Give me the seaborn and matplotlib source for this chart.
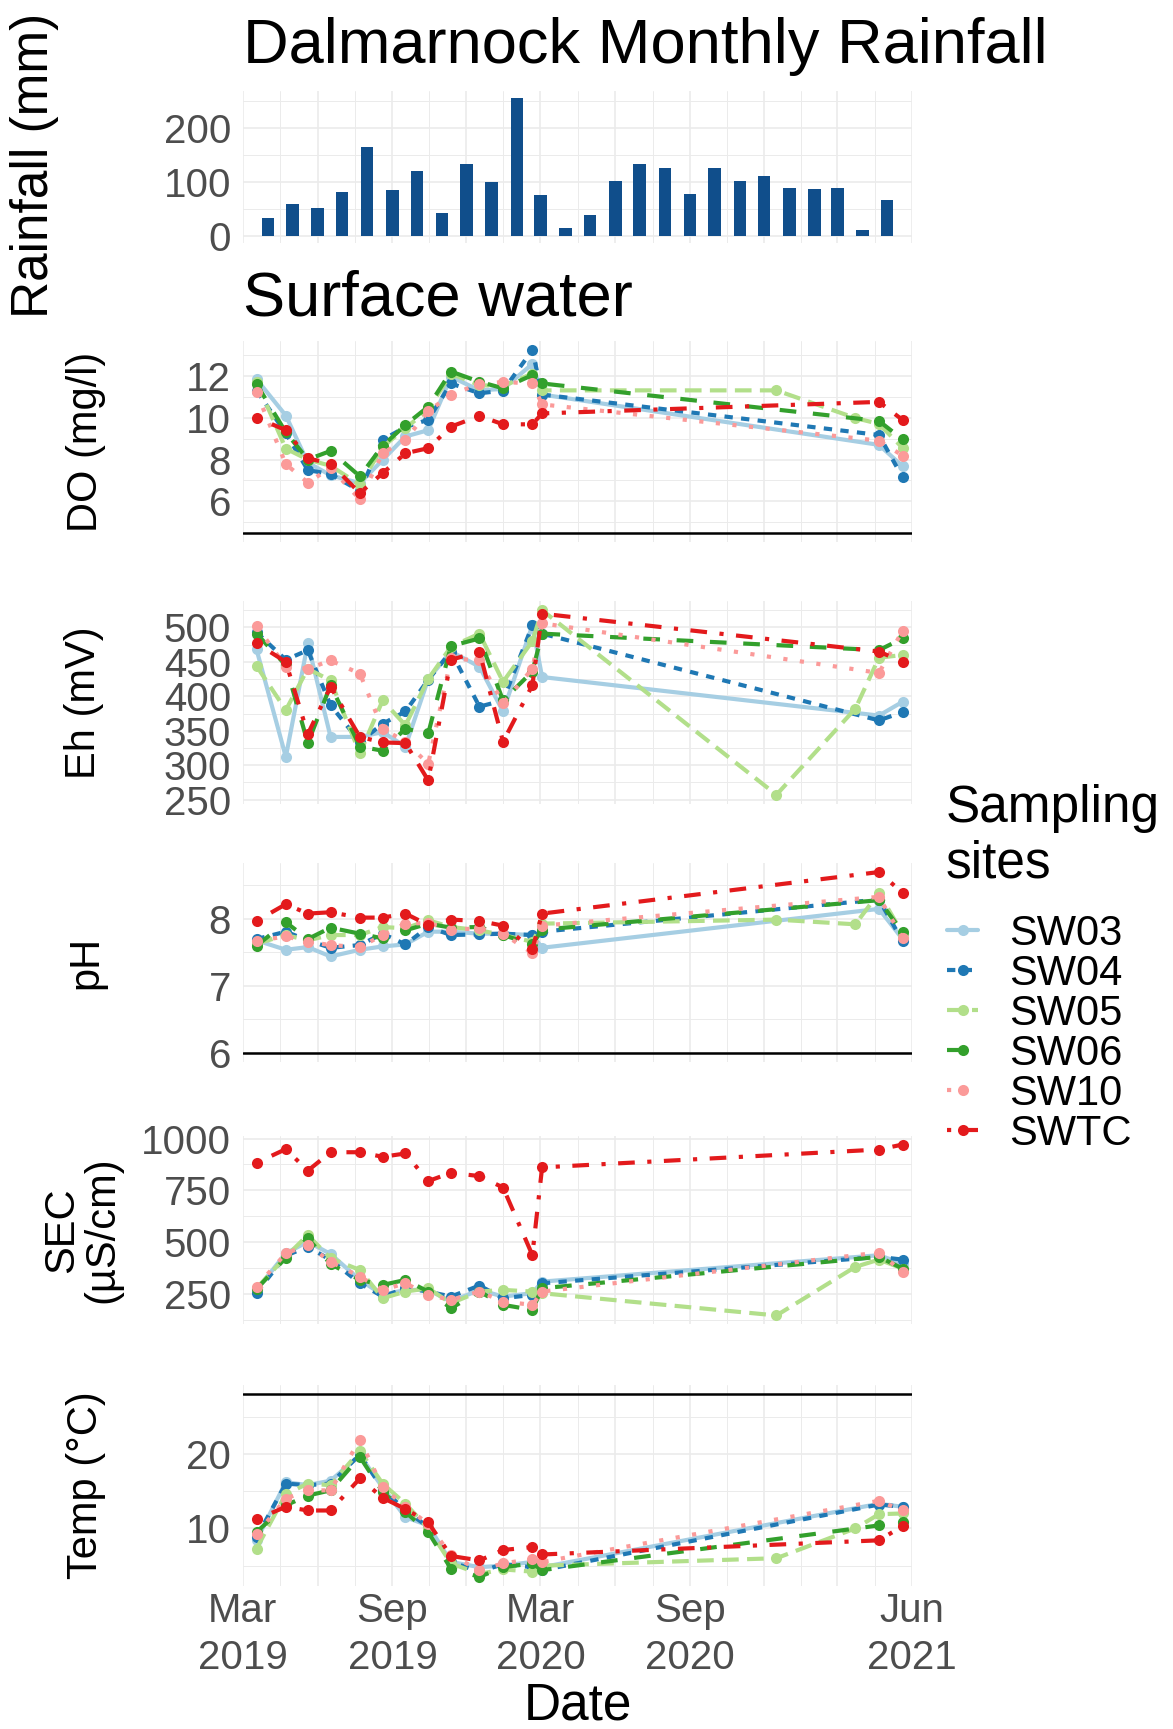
import numpy as np
import pandas as pd
import matplotlib
matplotlib.use("Agg")
import matplotlib.pyplot as plt
import matplotlib.dates as mdates
from matplotlib.lines import Line2D
from matplotlib.ticker import MultipleLocator, AutoMinorLocator, FixedLocator, FuncFormatter
import seaborn as sns

# ---------------- data ----------------
SITES = ["SW03", "SW04", "SW05", "SW06", "SW10", "SWTC"]
SITE_COLORS = ["#A6CEE3", "#1F78B4", "#B2DF8A", "#33A02C", "#FB9A99", "#E31A1C"]
SITE_DASHES_GG = ["", (2, 2), (4, 2), (4, 4), (1, 3), (1, 3, 4, 3)]

SAMPLE_DATES = ["2019-03-18", "2019-04-23", "2019-05-20", "2019-06-17", "2019-07-23",
                "2019-08-20", "2019-09-17", "2019-10-15", "2019-11-12", "2019-12-17",
                "2020-01-15", "2020-02-20", "2020-03-03", "2020-12-16", "2021-03-23",
                "2021-04-21", "2021-05-20"]

RAIN_MONTHS = pd.date_range("2019-04-01", "2021-05-01", freq="MS")
RAIN_MM = [34, 60, 52, 82, 164, 85, 120, 42, 133, 99, 255, 76, 15,
           39, 102, 133, 126, 77, 126, 102, 111, 88, 86, 88, 12, 66]

N = None
DO_SW03 = [11.83, 10.1, 7.85, 7.25, 6.87, 7.98, 9.1, 9.4, 11.95, 11.3, 11.37, 12.56, 11.1, N, N, 8.7, 7.68]
DO_SW04 = [11.29, 9.25, 7.5, 7.3, 6.5, 8.94, 9.55, 9.9, 11.63, 11.16, 11.29, 13.22, 11.1, N, N, 9.17, 7.15]
DO_SW05 = [11.71, 8.52, 8.0, 7.7, 6.8, 8.6, 9.5, 10.37, 12.1, 11.55, 11.5, 12.1, 11.3, 11.3, 9.98, 9.7, 8.56]
DO_SW06 = [11.6, 9.3, 8.0, 8.41, 7.2, 8.65, 9.65, 10.52, 12.2, 11.71, 11.4, 12.03, 11.63, N, N, 9.84, 8.96]
DO_SW10 = [11.2, 7.78, 6.9, 7.6, 6.1, 8.3, 8.94, 10.3, 11.1, 11.6, 11.7, 11.63, 10.63, N, N, 8.9, 8.19]
DO_SWTC = [10.0, 9.4, 8.06, 7.8, 6.4, 7.35, 8.3, 8.54, 9.57, 10.08, 9.68, 9.68, 10.2, N, N, 10.75, 9.89]

EH_SW03 = [468, 312, 477, 341, 341, 348, 327, 425, 465, 443, 378, 503, 428, N, N, 372, 392]
EH_SW04 = [493, 453, 467, 387, 334, 360, 378, 424, 465, 385, 394, 503, 491, N, N, 365, 377]
EH_SW05 = [444, 380, 440, 423, 317, 394, 358, 425, 472, 491, 421, 480, 525, 257, 382, 456, 460]
EH_SW06 = [491, 445, 332, 416, 327, 321, 353, 346, 473, 484, 394, 436, 491, N, N, 467, 484]
EH_SW10 = [502, 443, 440, 452, 433, 353, 334, 302, 455, 452, 390, 440, 506, N, N, 434, 495]
EH_SWTC = [477, 450, 345, 414, 341, 333, 332, 278, 453, 465, 334, 416, 520, N, N, 465, 450]

PH_SW03 = [7.68, 7.54, 7.58, 7.44, 7.54, 7.59, 7.62, 7.81, 7.81, 7.78, 7.78, 7.76, 7.57, N, N, 8.15, 7.70]
PH_SW04 = [7.70, 7.81, 7.68, 7.57, 7.61, 7.78, 7.62, 7.88, 7.76, 7.77, 7.78, 7.76, 7.81, N, N, 8.29, 7.67]
PH_SW05 = [7.63, 7.76, 7.68, 7.76, 7.76, 7.88, 7.86, 7.98, 7.88, 7.83, 7.76, 7.66, 7.93, 7.99, 7.92, 8.39, 7.78]
PH_SW06 = [7.60, 7.95, 7.70, 7.87, 7.78, 7.71, 7.83, 7.93, 7.87, 7.88, 7.76, 7.62, 7.84, N, N, 8.28, 7.80]
PH_SW10 = [7.67, 7.74, 7.66, 7.61, 7.58, 7.76, 7.93, 7.94, 7.84, 7.86, 7.78, 7.49, 7.90, N, N, 8.33, 7.72]
PH_SWTC = [7.97, 8.22, 8.08, 8.10, 8.02, 8.02, 8.08, 7.91, 7.99, 7.97, 7.90, 7.55, 8.08, N, N, 8.70, 8.39]

SEC_SW03 = [271, 447, 503, 444, 319, 247, 271, 271, 215, 271, 239, 255, 311, N, N, 438, 398]
SEC_SW04 = [258, 436, 479, 415, 303, 239, 279, 263, 239, 292, 231, 247, 303, N, N, 430, 417]
SEC_SW05 = [279, 431, 535, 423, 367, 231, 263, 279, 207, 263, 271, 263, 255, 148, 382, 417, 374]
SEC_SW06 = [275, 426, 519, 396, 319, 295, 319, 263, 183, 263, 199, 175, 279, N, N, 430, 374]
SEC_SW10 = [287, 447, 487, 407, 335, 271, 303, 247, 223, 263, 215, 199, 263, N, N, 451, 358]
SEC_SWTC = [883, 949, 845, 934, 934, 912, 928, 795, 835, 819, 764, 439, 861, N, N, 947, 971]

TEMP_SW03 = [8.4, 16.2, 15.8, 16.4, 19.8, 15.5, 11.5, 10.4, 5.5, 4.8, 5.0, 5.5, 4.8, N, N, 13.3, 12.9]
TEMP_SW04 = [8.8, 16.0, 15.8, 16.0, 19.9, 15.3, 12.4, 10.2, 5.5, 4.2, 5.2, 4.8, 4.4, N, N, 13.2, 12.9]
TEMP_SW05 = [7.3, 14.6, 16.0, 15.8, 20.4, 16.0, 13.3, 10.0, 5.3, 3.9, 4.5, 4.2, 5.0, 6.0, 10.0, 11.9, 12.0]
TEMP_SW06 = [9.5, 13.1, 14.4, 15.1, 19.6, 14.9, 12.2, 9.5, 4.6, 3.5, 4.8, 5.3, 4.4, N, N, 10.4, 10.8]
TEMP_SW10 = [9.2, 14.0, 15.1, 15.1, 21.9, 15.5, 12.9, 10.6, 6.4, 4.4, 5.3, 5.9, 5.5, N, N, 13.7, 12.4]
TEMP_SWTC = [11.2, 12.9, 12.4, 12.4, 16.7, 14.1, 12.6, 10.8, 6.3, 5.7, 7.1, 7.5, 6.5, N, N, 8.4, 10.3]

PANEL_LABELS = ["DO (mg/l)", "Eh (mV)", "pH", "SEC\n(µS/cm)", "Temp (°C)"]
PANEL_THRESHOLDS = [4.5, None, 6.0, None, 28.0]
PANEL_STEPS = [2, 50, 1, 250, 10]

X_START, X_END = "2019-03-01", "2021-06-01"
LABELED_TICKS = ["2019-03-01", "2019-09-01", "2020-03-01", "2020-09-01", "2021-06-01"]

# ---------------- style ----------------
sns.set_style("white")
plt.rcParams["font.family"] = ["Liberation Sans", "DejaVu Sans"]
plt.rcParams["text.color"] = "black"

W, H = 1173, 1729
fig = plt.figure(figsize=(W / 100, H / 100), dpi=100)


def rect(left, top, right, bottom):
    return [left / W, 1 - bottom / H, (right - left) / W, (bottom - top) / H]


PX_L, PX_R = 242.7, 912.3
GRID_C = "#EBEBEB"
TICK_C = "#4D4D4D"
LW = 3.0
MS = 8.0
DSCALE = 1.0
dash_map = {s: (d if d == "" else tuple(v * DSCALE for v in d)) for s, d in zip(SITES, SITE_DASHES_GG)}
pal = dict(zip(SITES, SITE_COLORS))
xmin, xmax = pd.Timestamp(X_START), pd.Timestamp(X_END)
labeled = mdates.date2num(pd.to_datetime(LABELED_TICKS))
major_nums = mdates.date2num(pd.date_range(X_START, X_END, freq="3MS"))
minor_nums = (major_nums[:-1] + major_nums[1:]) / 2


def style_x(ax, show_labels):
    ax.set_xlim(mdates.date2num(xmin), mdates.date2num(xmax))
    ax.xaxis.set_major_locator(FixedLocator(major_nums))
    ax.xaxis.set_minor_locator(FixedLocator(minor_nums))
    if show_labels:
        ax.xaxis.set_major_formatter(FuncFormatter(
            lambda v, p: mdates.num2date(v).strftime("%b\n%Y") if np.any(np.abs(labeled - v) < 1) else ""))
    else:
        ax.xaxis.set_major_formatter(FuncFormatter(lambda v, p: ""))


def style_common(ax):
    for sp in ax.spines.values():
        sp.set_visible(False)
    ax.grid(which="major", color=GRID_C, lw=1.2)
    ax.grid(which="minor", color=GRID_C, lw=0.7)
    ax.set_axisbelow(True)
    ax.tick_params(which="both", length=0, labelsize=29, colors=TICK_C)
    ax.tick_params(axis="y", pad=8.5)
    ax.tick_params(axis="x", pad=4.5)
    ax.set_xlabel("")
    ax.set_ylabel("")


# ---------------- rainfall ----------------
axr = fig.add_axes(rect(PX_L, 91, PX_R, 243))
sns.barplot(x=mdates.date2num(RAIN_MONTHS), y=RAIN_MM, native_scale=True, color="#104E8B",
            saturation=1, width=0.55, errorbar=None, linewidth=0, ax=axr)
style_x(axr, False)
axr.set_ylim(-0.05 * max(RAIN_MM), 1.05 * max(RAIN_MM))
axr.yaxis.set_major_locator(MultipleLocator(100))
axr.yaxis.set_minor_locator(AutoMinorLocator(2))
style_common(axr)

fig.text(PX_L / W, 1 - 63 / H, "Dalmarnock Monthly Rainfall", fontsize=45.5, va="baseline", ha="left")
fig.text(35 / W, 1 - 165 / H, "Rainfall (mm)", fontsize=37, rotation=90, ha="center", va="center")
fig.text(PX_L / W, 1 - 316 / H, "Surface water", fontsize=45.5, va="baseline", ha="left")

# ---------------- water quality panels ----------------
panel_px = [(341, 542), (601, 804), (863, 1062), (1136, 1324), (1385, 1586)]
panel_series = [
    [DO_SW03, DO_SW04, DO_SW05, DO_SW06, DO_SW10, DO_SWTC],
    [EH_SW03, EH_SW04, EH_SW05, EH_SW06, EH_SW10, EH_SWTC],
    [PH_SW03, PH_SW04, PH_SW05, PH_SW06, PH_SW10, PH_SWTC],
    [SEC_SW03, SEC_SW04, SEC_SW05, SEC_SW06, SEC_SW10, SEC_SWTC],
    [TEMP_SW03, TEMP_SW04, TEMP_SW05, TEMP_SW06, TEMP_SW10, TEMP_SWTC],
]
label_x = [86, 84, 86, 82, 86]

for i, ((top, bot), series) in enumerate(zip(panel_px, panel_series)):
    ax = fig.add_axes(rect(PX_L, top, PX_R, bot))
    rows = []
    for site, vals in zip(SITES, series):
        for d, v in zip(SAMPLE_DATES, vals):
            if v is not None:
                rows.append((pd.Timestamp(d), site, v))
    df = pd.DataFrame(rows, columns=["date", "site", "value"])
    df["date"] = mdates.date2num(df["date"])
    thr = PANEL_THRESHOLDS[i]
    if thr is not None:
        ax.axhline(thr, color="black", lw=1.8, zorder=1.5)
    sns.lineplot(data=df, x="date", y="value", hue="site", style="site",
                 hue_order=SITES, style_order=SITES, palette=pal,
                 dashes=dash_map, markers={s: "o" for s in SITES},
                 markersize=MS, markeredgewidth=0, linewidth=LW,
                 estimator=None, legend=False, ax=ax)
    lo, hi = df["value"].min(), df["value"].max()
    if thr is not None:
        lo, hi = min(lo, thr), max(hi, thr)
    pad = 0.05 * (hi - lo)
    ax.set_ylim(lo - pad, hi + pad)
    ax.yaxis.set_major_locator(MultipleLocator(PANEL_STEPS[i]))
    ax.yaxis.set_minor_locator(AutoMinorLocator(2))
    style_x(ax, i == len(panel_px) - 1)
    style_common(ax)
    if i == len(panel_px) - 1:
        for t in ax.xaxis.get_major_ticks():
            t.label1.set_linespacing(1.28)
    fig.text(label_x[i] / W, 1 - (top + bot) / 2 / H, PANEL_LABELS[i], fontsize=30,
             rotation=90, ha="center", va="center", linespacing=1.0)

fig.text((PX_L + PX_R) / 2 / W, 1 - 1720 / H, "Date", fontsize=37, ha="center", va="baseline")

# ---------------- legend ----------------
fig.text(946 / W, 1 - 822 / H, "Sampling", fontsize=37, ha="left", va="baseline")
fig.text(946 / W, 1 - 877 / H, "sites", fontsize=37, ha="left", va="baseline")
handles = []
for s, c in zip(SITES, SITE_COLORS):
    h = Line2D([], [], color=c, lw=LW, marker="o", markersize=MS, markeredgewidth=0)
    if dash_map[s] != "":
        h.set_dashes(dash_map[s])
    handles.append(h)
leg = fig.legend(handles, SITES, loc="upper left", bbox_to_anchor=(947 / W, 1 - 914 / H),
                 frameon=False, fontsize=30,
                 handlelength=0.75, handletextpad=0.75, labelspacing=0.0,
                 borderpad=0, borderaxespad=0, numpoints=1)

fig.savefig("out.png", dpi=100)
